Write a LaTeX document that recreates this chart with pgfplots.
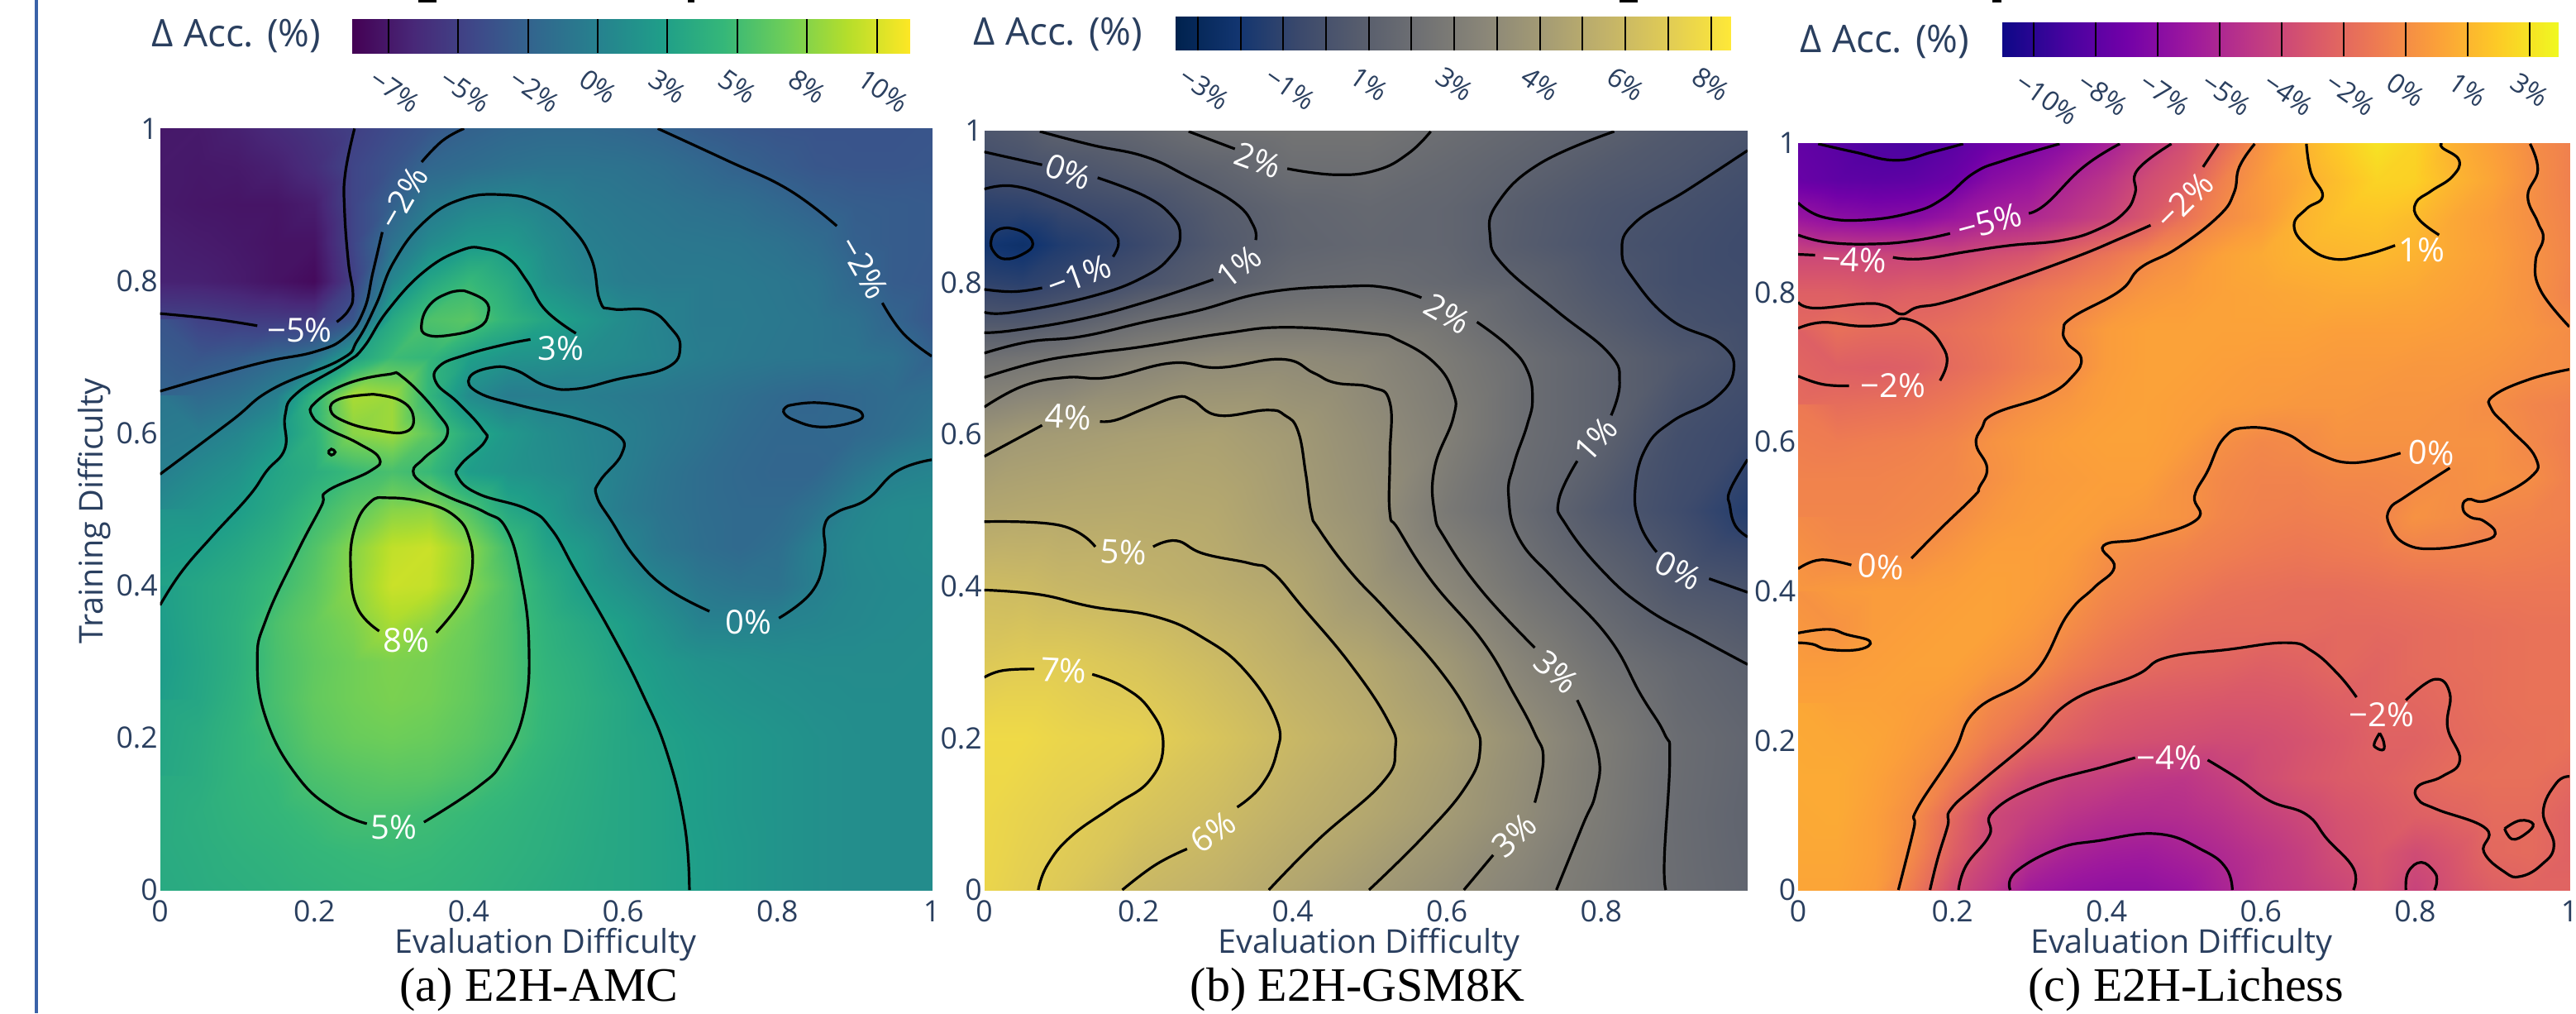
\documentclass[border=0pt]{standalone}
\usepackage{fontspec}
\usepackage{pgfplots}
\pgfplotsset{compat=1.18}
\setmainfont{Open Sans}
\newfontfamily\capfont{Liberation Serif}
\definecolor{lab}{HTML}{2A3F5F}
\definecolor{rule}{HTML}{3A62A8}
\pgfplotsset{
 colormap={pvir}{rgb255=(68,1,84) rgb255=(72,40,120) rgb255=(62,73,137) rgb255=(49,104,142) rgb255=(38,130,142) rgb255=(31,158,137) rgb255=(53,183,121) rgb255=(110,206,88) rgb255=(181,222,43) rgb255=(253,231,37)},
 colormap={pciv}{rgb255=(0,34,78) rgb255=(18,53,112) rgb255=(59,73,108) rgb255=(87,93,109) rgb255=(112,113,115) rgb255=(138,134,120) rgb255=(165,156,116) rgb255=(195,179,105) rgb255=(225,204,85) rgb255=(254,232,56)},
 colormap={ppla}{rgb255=(13,8,135) rgb255=(70,3,159) rgb255=(114,1,168) rgb255=(156,23,158) rgb255=(189,55,134) rgb255=(216,87,107) rgb255=(237,121,83) rgb255=(251,159,58) rgb255=(253,202,38) rgb255=(240,249,33)},
 heat/.style={scale only axis,anchor=south west,enlargelimits=false,axis line style={draw=none},
   major tick length=0pt,ymin=0,ymax=1,
   ytick={0,0.2,0.4,0.6,0.8,1},yticklabels={0,0.2,0.4,0.6,0.8,1},
   ticklabel style={font=\fontsize{8.9}{10}\selectfont,text=lab},
   xticklabel style={inner sep=0pt,yshift=-3pt},
   yticklabel style={inner sep=0pt,xshift=-0.5pt}},
 bar/.style={scale only axis,anchor=south west,enlargelimits=false,axis line style={draw=none},
   major tick length=0pt,ymin=0,ymax=1,ytick=\empty,height=10.25pt,
   xticklabel style={font=\fontsize{8.2}{10}\selectfont,text=lab,rotate=-35,anchor=west,inner sep=0pt,yshift=-8.25pt}},
 cl/.style={black,line width=0.8pt,smooth,tension=0.75,no markers},
 tk/.style={black,line width=0.5pt,no markers},
}
\tikzset{cn/.style={text=white,font=\fontsize{10}{12}\selectfont,inner sep=0pt}}
\begin{document}
\begin{tikzpicture}
\path[use as bounding box] (0pt,0pt) rectangle (779pt,306.25pt);
\fill[rule] (10.6pt,0pt) rectangle (11.4pt,306.25pt);
\fill[black] (126.5pt,305.5pt) rectangle (132pt,306.25pt);
\fill[black] (208pt,305.5pt) rectangle (210pt,306.25pt);
\fill[black] (489.8pt,305.5pt) rectangle (495.3pt,306.25pt);
\fill[black] (602.5pt,305.5pt) rectangle (605.3pt,306.25pt);

% ---------- panel a ----------
\begin{axis}[heat,at={(48.4pt,37.25pt)},width=233.35pt,height=230.15pt,xmin=0,xmax=1,
 xtick={0,0.2,0.4,0.6,0.8,1},xticklabels={0,0.2,0.4,0.6,0.8,1},
 colormap name=pvir,point meta min=-8.8,point meta max=11.17]
\addplot[surf,shader=interp,mesh/cols=21,point meta=explicit] table[header=false,row sep=\\,x expr={mod(\coordindex,21)*0.05},y expr={1-floor(\coordindex/21)*0.05},meta index=0]{
-7.5\\-7.4\\-7\\-6.4\\-5.8\\-5\\-4.2\\-3.4\\-2.6\\-2.2\\-2\\-2\\-2.2\\-2.5\\-3\\-3.3\\-3.5\\-3.6\\-3.6\\-3.6\\-3.5\\
-7.4\\-7.5\\-7.4\\-7\\-6.2\\-4.6\\-3.6\\-2.2\\-1.8\\-1.4\\-1.2\\-1.2\\-1.3\\-1.6\\-2.1\\-2.6\\-3\\-3.4\\-3.5\\-3.5\\-3.4\\
-7.4\\-7.6\\-7.7\\-7.7\\-7.2\\-4.6\\-2.7\\-0.7\\0.2\\0.5\\0\\-0.6\\-0.9\\-1.1\\-1.4\\-1.6\\-2.1\\-2.6\\-2.9\\-3\\-3.1\\
-7.1\\-7.3\\-7.5\\-7.8\\-7.8\\-4.6\\-1.3\\0.7\\1.8\\1.9\\0.8\\-0.2\\-0.6\\-0.8\\-0.9\\-1\\-1.3\\-1.8\\-2.7\\-3\\-3.1\\
-6.9\\-7\\-7.3\\-7.8\\-8.3\\-5\\0.4\\3\\4.6\\3.3\\1.3\\0.3\\-0.4\\-0.6\\-0.6\\-0.7\\-0.9\\-1.2\\-2.2\\-3\\-3.2\\
-4.8\\-4.9\\-5.2\\-5.3\\-5.4\\-3.5\\3.2\\5.5\\5.9\\4.2\\2.9\\1.8\\0.8\\0.1\\-0.6\\-0.6\\-0.8\\-1\\-1.4\\-2.4\\-3.3\\
-3.6\\-3.4\\-3\\-2.1\\-1.2\\2.5\\4.8\\4.4\\2.4\\1.5\\1.3\\0.9\\0.6\\0.2\\-0.4\\-0.7\\-0.9\\-1\\-1.1\\-1.4\\-2.5\\
-2.4\\-2\\-1.4\\-0.2\\4.2\\8.6\\8.2\\4.2\\0.8\\-0.4\\-0.3\\-0.3\\-0.6\\-0.9\\-1.2\\-1.6\\-2\\-2.3\\-2.1\\-1.8\\-1.5\\
-1\\-0.4\\0.3\\1.6\\4\\7.6\\8.2\\6\\3.3\\1.8\\0.9\\0.3\\-0.2\\-0.8\\-1.3\\-1.9\\-2.2\\-2.2\\-2.1\\-1.6\\-0.9\\
-0.2\\0.6\\1.3\\2.8\\3.6\\4.7\\5.3\\4.6\\2.2\\1.5\\1\\0.4\\-0.3\\-1.1\\-1.7\\-2.1\\-2.3\\-2.3\\-1.1\\-0.1\\0.2\\
0.8\\1.5\\2.2\\3.2\\4.7\\6\\7.5\\7.7\\5.6\\3.1\\2\\0.6\\-0.5\\-1.2\\-1.7\\-2\\-2\\-1.2\\0.2\\0.7\\0.8\\
1.5\\2.3\\3\\4\\5.6\\7.5\\9.3\\9.6\\7.7\\5\\2.8\\1.8\\0.3\\-0.9\\-1.6\\-2\\-1.6\\-0.1\\0.5\\0.7\\0.9\\
2.6\\3\\3.6\\4.7\\6\\7.7\\9.6\\9.4\\7.5\\5.6\\3.6\\2.2\\1.2\\0.2\\-0.8\\-1.2\\-1.3\\-0.2\\0.4\\0.6\\0.7\\
2.3\\3\\3.8\\5.4\\6.4\\7.2\\8.6\\7.7\\6.6\\5.5\\4\\3.1\\2.3\\1.2\\0.1\\0.05\\0.1\\0.3\\0.5\\0.7\\0.8\\
2.1\\2.9\\3.8\\5.3\\6.2\\6.8\\7.2\\7\\6.4\\5.5\\4.2\\3.5\\2.6\\1.9\\1.3\\1.1\\0.9\\0.8\\0.8\\0.8\\0.9\\
2.3\\3\\4\\5.3\\6.3\\6.8\\7.1\\6.9\\6.3\\5.5\\4.4\\3.7\\3\\2.2\\1.7\\1.4\\1.2\\1\\0.9\\0.9\\0.9\\
2.8\\3.4\\4.2\\5\\6\\6.5\\6.7\\6.5\\6\\5.3\\4.3\\3.6\\3\\2.6\\2.1\\1.8\\1.5\\1.2\\1\\0.9\\0.9\\
3\\3.5\\4.2\\4.6\\5.4\\5.8\\6\\5.9\\5.4\\4.7\\4\\3.5\\3\\2.7\\2.2\\1.8\\1.5\\1.2\\1\\0.9\\0.9\\
3.3\\3.7\\4.1\\4.4\\4.8\\5.2\\5.2\\4.9\\4.6\\4.2\\3.8\\3.4\\3\\2.7\\2.2\\1.8\\1.5\\1.2\\1\\0.9\\0.9\\
3.4\\3.6\\3.9\\4.1\\4.4\\4.6\\4.7\\4.6\\4.3\\4\\3.7\\3.3\\3\\2.7\\2.3\\1.9\\1.5\\1.2\\1\\0.9\\0.9\\
3.3\\3.5\\3.7\\3.9\\4.1\\4.3\\4.4\\4.3\\4.1\\3.8\\3.5\\3.2\\3\\2.7\\2.3\\1.9\\1.5\\1.2\\1\\0.9\\0.9\\
};
% level -5
\addplot[cl] coordinates {(0.252,1)(0.240,0.941)(0.239,0.894)(0.244,0.825)(0.250,0.782)(0.244,0.761)(0.229,0.746)};
\addplot[cl] coordinates {(0.126,0.741)(0.068,0.750)(0,0.757)};
% level -2.5
\addplot[cl] coordinates {(0.394,1)(0.366,0.984)(0.339,0.956)};
\addplot[cl] coordinates {(0.288,0.864)(0.276,0.812)(0.264,0.761)(0.240,0.726)(0.201,0.707)(0.138,0.694)(0.068,0.675)(0,0.655)};
\addplot[cl] coordinates {(0.645,1)(0.735,0.958)(0.814,0.920)(0.877,0.872)};
\addplot[cl] coordinates {(0.936,0.771)(0.963,0.731)(1,0.701)};
\addplot[cl] coordinates {(0.814,0.636)(0.849,0.640)(0.892,0.634)(0.910,0.625)(0.900,0.615)(0.857,0.608)(0.822,0.617)(0.808,0.628)(0.814,0.636)};
% level 0
\addplot[cl] coordinates {(0,0.546)(0.091,0.615)(0.146,0.658)(0.233,0.696)(0.256,0.722)(0.280,0.769)(0.303,0.825)(0.342,0.877)(0.390,0.907)(0.445,0.913)(0.492,0.902)(0.531,0.872)(0.559,0.829)(0.570,0.774)(0.586,0.763)(0.633,0.761)(0.661,0.739)(0.674,0.713)(0.657,0.686)(0.594,0.671)(0.539,0.658)(0.500,0.662)(0.460,0.683)(0.429,0.686)(0.401,0.673)(0.413,0.653)(0.468,0.636)(0.547,0.617)(0.594,0.597)(0.598,0.572)(0.570,0.537)(0.566,0.517)(0.586,0.483)(0.617,0.435)(0.657,0.396)(0.712,0.366)};
\addplot[cl] coordinates {(0.802,0.357)(0.845,0.392)(0.861,0.439)(0.861,0.478)(0.877,0.496)(0.916,0.513)(0.955,0.550)(1,0.565)};
% level 2.5
\addplot[cl] coordinates {(0,0.374)(0.028,0.418)(0.068,0.465)(0.115,0.517)(0.138,0.550)(0.162,0.580)(0.162,0.623)(0.178,0.653)(0.240,0.692)(0.264,0.713)(0.295,0.761)(0.342,0.812)(0.390,0.840)(0.421,0.842)(0.452,0.829)(0.476,0.799)(0.500,0.761)(0.539,0.731)};
\addplot[cl] coordinates {(0.480,0.723)(0.445,0.716)(0.397,0.703)(0.362,0.688)(0.358,0.666)(0.386,0.640)(0.417,0.606)(0.421,0.589)(0.390,0.559)(0.386,0.542)(0.413,0.520)(0.476,0.500)(0.507,0.474)(0.539,0.418)(0.586,0.335)(0.625,0.258)(0.657,0.180)(0.680,0.084)(0.686,0)};
% level 5
\addplot[cl] coordinates {(0.342,0.089)(0.413,0.136)(0.445,0.171)(0.472,0.236)(0.478,0.323)(0.468,0.409)(0.449,0.474)(0.421,0.496)(0.374,0.516)(0.342,0.533)(0.328,0.550)(0.342,0.567)(0.372,0.597)(0.358,0.628)(0.315,0.673)(0.295,0.677)(0.240,0.664)(0.201,0.640)(0.197,0.623)(0.217,0.606)(0.256,0.587)(0.284,0.567)(0.272,0.550)(0.217,0.524)(0.209,0.504)(0.178,0.444)(0.138,0.357)(0.126,0.301)(0.138,0.223)(0.178,0.149)(0.225,0.106)(0.268,0.087)};
\addplot[cl] coordinates {(0.394,0.787)(0.421,0.774)(0.425,0.756)(0.413,0.739)(0.378,0.729)(0.346,0.729)(0.339,0.744)(0.350,0.769)(0.374,0.784)(0.394,0.787)};
\addplot[cl] coordinates {(0.218,0.575)(0.222,0.579)(0.227,0.575)(0.222,0.571)(0.218,0.575)};
% level 7.5
\addplot[cl] coordinates {(0.276,0.651)(0.311,0.643)(0.328,0.623)(0.319,0.602)(0.280,0.604)(0.240,0.615)(0.221,0.630)(0.233,0.645)(0.276,0.651)};
\addplot[cl] coordinates {(0.358,0.338)(0.390,0.379)(0.404,0.418)(0.401,0.461)(0.382,0.491)(0.342,0.509)(0.296,0.515)(0.272,0.509)(0.252,0.474)(0.247,0.422)(0.256,0.370)(0.284,0.340)};
\node[cn,rotate=60] at (axis cs:0.315,0.909) {−2\%};
\node[cn,rotate=-60] at (axis cs:0.912,0.817) {−2\%};
\node[cn] at (axis cs:0.181,0.735) {−5\%};
\node[cn] at (axis cs:0.519,0.711) {3\%};
\node[cn] at (axis cs:0.303,0.082) {5\%};
\node[cn] at (axis cs:0.319,0.328) {8\%};
\node[cn] at (axis cs:0.763,0.352) {0\%};
\end{axis}

% ---------- panel b ----------
\begin{axis}[heat,at={(297.65pt,37.25pt)},width=230.85pt,height=229.5pt,xmin=0,xmax=0.99,
 xtick={0,0.2,0.4,0.6,0.8},xticklabels={0,0.2,0.4,0.6,0.8},
 colormap name=pciv,point meta min=-3.21,point meta max=8.15]
\addplot[surf,shader=interp,mesh/cols=12,point meta=explicit] table[header=false,row sep=\\,x index=0,y index=1,meta index=2]{
0 1 0.15\\0.05 1 0.4\\0.1 1 0.9\\0.2 1 1.2\\0.3 1 1.8\\0.4 1 2\\0.5 1 2\\0.6 1 1.6\\0.7 1 1.2\\0.8 1 0.8\\0.9 1 0.3\\0.99 1 0\\
0 0.95 -0.4\\0.05 0.95 -0.2\\0.1 0.95 0\\0.2 0.95 0.5\\0.3 0.95 1\\0.4 0.95 1.63\\0.5 0.95 1.66\\0.6 0.95 1.3\\0.7 0.95 0.9\\0.8 0.95 0.4\\0.9 0.95 0.1\\0.99 0.95 -0.3\\
0 0.9 -1.2\\0.05 0.9 -1.1\\0.1 0.9 -0.75\\0.2 0.9 -0.3\\0.3 0.9 0.5\\0.4 0.9 1.1\\0.5 0.9 1.3\\0.6 0.9 1.1\\0.7 0.9 0.55\\0.8 0.9 0.1\\0.9 0.9 -0.2\\0.99 0.9 -0.5\\
0 0.85 -1.9\\0.05 0.85 -2.2\\0.1 0.85 -1.5\\0.2 0.85 -0.75\\0.3 0.85 0.3\\0.4 0.85 1\\0.5 0.85 1.2\\0.6 0.85 1.1\\0.7 0.85 0.5\\0.8 0.85 0\\0.9 0.85 -0.35\\0.99 0.85 -0.6\\
0 0.8 -1.05\\0.05 0.8 -1.2\\0.1 0.8 -0.85\\0.2 0.8 -0.1\\0.3 0.8 0.7\\0.4 0.8 1.4\\0.5 0.8 1.55\\0.6 0.8 1.3\\0.7 0.8 0.95\\0.8 0.8 0.2\\0.9 0.8 -0.35\\0.99 0.8 -0.5\\
0 0.75 0.2\\0.05 0.75 0.2\\0.1 0.75 0.55\\0.2 0.75 1.55\\0.3 0.75 2\\0.4 0.75 2.3\\0.5 0.75 2.3\\0.6 0.75 2\\0.7 0.75 1.2\\0.8 0.75 0.5\\0.9 0.75 -0.15\\0.99 0.75 -0.4\\
0 0.7 1.8\\0.05 0.7 2\\0.1 0.7 2.2\\0.2 0.7 2.9\\0.3 0.7 3.3\\0.4 0.7 3.35\\0.5 0.7 3.1\\0.6 0.7 2.4\\0.7 0.7 1.6\\0.8 0.7 0.9\\0.9 0.7 0.25\\0.99 0.7 -0.3\\
0 0.6 3.9\\0.05 0.6 4.2\\0.1 0.6 4.3\\0.2 0.6 4.5\\0.3 0.6 4.6\\0.4 0.6 4.2\\0.5 0.6 3.5\\0.6 0.6 2.7\\0.7 0.6 1.6\\0.8 0.6 0.9\\0.9 0.6 -0.3\\0.99 0.6 -0.7\\
0 0.5 4.9\\0.05 0.5 5\\0.1 0.5 5.05\\0.2 0.5 5.1\\0.3 0.5 5\\0.4 0.5 4.4\\0.5 0.5 3.7\\0.6 0.5 2.3\\0.7 0.5 1.4\\0.8 0.5 0.3\\0.9 0.5 -0.5\\0.99 0.5 -1.4\\
0 0.4 6.05\\0.05 0.4 6\\0.1 0.4 5.8\\0.2 0.4 5.6\\0.3 0.4 5.3\\0.4 0.4 4.9\\0.5 0.4 4\\0.6 0.4 3.1\\0.7 0.4 2\\0.8 0.4 1.1\\0.9 0.4 0.2\\0.99 0.4 -0.1\\
0 0.3 6.7\\0.05 0.3 6.85\\0.1 0.3 6.85\\0.2 0.3 6.5\\0.3 0.3 6\\0.4 0.3 5.4\\0.5 0.3 4.9\\0.6 0.3 4.1\\0.7 0.3 2.9\\0.8 0.3 1.9\\0.9 0.3 1.2\\0.99 0.3 0.75\\
0 0.2 7.5\\0.05 0.2 7.5\\0.1 0.2 7.3\\0.2 0.2 7.1\\0.3 0.2 6.5\\0.4 0.2 5.85\\0.5 0.2 5.3\\0.6 0.2 4.6\\0.7 0.2 3.6\\0.8 0.2 2.5\\0.9 0.2 1.55\\0.99 0.2 1.1\\
0 0.1 7.4\\0.05 0.1 7.2\\0.1 0.1 7\\0.2 0.1 6.5\\0.3 0.1 6.05\\0.4 0.1 5.45\\0.5 0.1 4.95\\0.6 0.1 4.3\\0.7 0.1 3.4\\0.8 0.1 2.4\\0.9 0.1 1.5\\0.99 0.1 1\\
0 0 7.3\\0.05 0 7\\0.1 0 6.7\\0.2 0 5.9\\0.3 0 5.5\\0.4 0 4.9\\0.5 0 4.25\\0.6 0 3.6\\0.7 0 2.9\\0.8 0 2.2\\0.9 0 1.55\\0.99 0 1.1\\
};
\addplot[cl] coordinates {(0.031,0.872)(0.051,0.866)(0.063,0.851)(0.051,0.838)(0.027,0.831)(0.012,0.841)(0.009,0.856)(0.017,0.869)(0.031,0.872)};
\addplot[cl] coordinates {(0,0.923)(0.038,0.927)(0.092,0.910)(0.140,0.886)(0.167,0.866)(0.174,0.851)(0.167,0.834)};
\addplot[cl] coordinates {(0.075,0.793)(0.038,0.788)(0,0.791)};
\addplot[cl] coordinates {(0,0.972)(0.075,0.955)};
\addplot[cl] coordinates {(0.147,0.938)(0.208,0.914)(0.243,0.888)(0.254,0.862)(0.243,0.836)(0.208,0.808)(0.140,0.782)(0.038,0.761)(0,0.761)};
\addplot[cl] coordinates {(0.072,0.999)(0.140,0.981)(0.208,0.966)(0.263,0.940)(0.325,0.905)(0.349,0.875)(0.352,0.856)};
\addplot[cl] coordinates {(0.297,0.804)(0.208,0.774)(0.126,0.752)(0.038,0.737)(0,0.734)};
\addplot[cl] coordinates {(0.265,0.999)(0.325,0.976)};
\addplot[cl] coordinates {(0.393,0.950)(0.455,0.942)(0.509,0.948)(0.550,0.970)(0.579,0.999)};
\addplot[cl] coordinates {(0,0.707)(0.058,0.722)(0.126,0.729)(0.208,0.748)(0.277,0.763)(0.366,0.787)(0.468,0.795)(0.523,0.793)(0.567,0.780)};
\addplot[cl] coordinates {(0.639,0.748)(0.680,0.716)(0.704,0.685)(0.711,0.647)(0.704,0.612)(0.687,0.561)(0.680,0.519)(0.694,0.462)(0.742,0.406)(0.810,0.332)(0.851,0.258)(0.882,0.206)(0.889,0.172)(0.882,0.041)(0.884,0)};
\addplot[cl] coordinates {(0,0.675)(0.072,0.696)(0.140,0.707)(0.208,0.716)(0.311,0.733)(0.393,0.741)(0.502,0.733)(0.537,0.724)(0.584,0.694)(0.608,0.655)(0.608,0.621)(0.584,0.556)(0.584,0.497)(0.598,0.462)(0.646,0.393)(0.714,0.319)};
\addplot[cl] coordinates {(0.769,0.250)(0.796,0.180)(0.793,0.128)(0.776,0.085)(0.742,0)};
\addplot[cl] coordinates {(0,0.636)(0.051,0.664)(0.106,0.675)(0.161,0.675)(0.243,0.694)(0.304,0.688)(0.386,0.699)(0.427,0.681)(0.455,0.668)(0.502,0.662)(0.526,0.642)(0.526,0.569)(0.526,0.497)(0.537,0.475)(0.581,0.406)(0.646,0.328)(0.687,0.258)(0.714,0.206)(0.725,0.172)(0.714,0.115)};
\addplot[cl] coordinates {(0.660,0.046)(0.622,0)};
\addplot[cl] coordinates {(0,0.571)(0.075,0.612)};
\addplot[cl] coordinates {(0.150,0.617)(0.171,0.619)(0.208,0.634)(0.249,0.649)(0.270,0.645)(0.304,0.625)(0.366,0.632)(0.390,0.625)(0.407,0.604)(0.417,0.548)(0.424,0.497)(0.434,0.475)(0.475,0.419)(0.523,0.367)(0.591,0.289)(0.632,0.224)(0.643,0.185)(0.625,0.137)(0.571,0.072)(0.499,0)};
\addplot[cl] coordinates {(0,0.485)(0.099,0.480)(0.144,0.452)};
\addplot[cl] coordinates {(0.219,0.452)(0.249,0.460)(0.284,0.443)(0.345,0.430)(0.373,0.419)(0.414,0.371)(0.475,0.297)(0.523,0.224)(0.533,0.185)(0.516,0.141)(0.434,0.067)(0.369,0)};
\addplot[cl] coordinates {(0,0.395)(0.072,0.389)(0.140,0.373)(0.222,0.360)(0.284,0.332)(0.338,0.289)(0.379,0.224)(0.379,0.180)(0.359,0.137)(0.328,0.109)};
\addplot[cl] coordinates {(0.263,0.054)(0.222,0.033)(0.179,0)};
\addplot[cl] coordinates {(0,0.280)(0.024,0.289)(0.065,0.291)};
\addplot[cl] coordinates {(0.140,0.284)(0.181,0.267)(0.215,0.237)(0.232,0.193)(0.215,0.145)(0.167,0.110)(0.113,0.071)(0.082,0.033)(0.070,0)};
\addplot[cl] coordinates {(0.817,0.999)(0.721,0.957)(0.666,0.905)(0.656,0.862)(0.673,0.823)(0.742,0.763)(0.810,0.707)(0.824,0.668)(0.813,0.625)};
\addplot[cl] coordinates {(0.769,0.565)(0.745,0.513)(0.755,0.480)(0.803,0.419)(0.858,0.371)(0.926,0.332)(0.990,0.297)};
\addplot[cl] coordinates {(0.990,0.974)(0.912,0.922)(0.844,0.879)(0.827,0.841)(0.844,0.802)(0.892,0.750)(0.954,0.720)(0.972,0.685)(0.947,0.647)(0.892,0.617)(0.858,0.582)(0.844,0.526)(0.851,0.480)(0.872,0.445)};
\addplot[cl] coordinates {(0.940,0.410)(0.990,0.392)};
\addplot[cl] coordinates {(0.990,0.567)(0.967,0.526)(0.967,0.506)(0.974,0.480)(0.990,0.465)};
\node[cn,rotate=-20] at (axis cs:0.109,0.946) {0\%};
\node[cn,rotate=20] at (axis cs:0.123,0.809) {−1\%};
\node[cn,rotate=38] at (axis cs:0.330,0.821) {1\%};
\node[cn,rotate=-20] at (axis cs:0.355,0.961) {2\%};
\node[cn,rotate=-3] at (axis cs:0.109,0.623) {4\%};
\node[cn,rotate=-30] at (axis cs:0.601,0.759) {2\%};
\node[cn,rotate=48] at (axis cs:0.793,0.593) {1\%};
\node[cn,rotate=-27] at (axis cs:0.900,0.421) {0\%};
\node[cn,rotate=-42] at (axis cs:0.742,0.287) {3\%};
\node[cn,rotate=42] at (axis cs:0.687,0.072) {3\%};
\node[cn,rotate=-3] at (axis cs:0.181,0.445) {5\%};
\node[cn,rotate=35] at (axis cs:0.297,0.076) {6\%};
\node[cn,rotate=-3] at (axis cs:0.103,0.289) {7\%};
\end{axis}

% ---------- panel c ----------
\begin{axis}[heat,at={(543.75pt,37.25pt)},width=233.25pt,height=225.75pt,xmin=0,xmax=1,
 xtick={0,0.2,0.4,0.6,0.8,1},xticklabels={0,0.2,0.4,0.6,0.8,1},
 colormap name=ppla,point meta min=-10.26,point meta max=3.2]
\addplot[surf,shader=interp,mesh/cols=21,point meta=explicit] table[header=false,row sep=\\,x expr={mod(\coordindex,21)*0.05},y expr={1-floor(\coordindex/21)*0.05},meta index=0]{
-7.8\\-8.1\\-8.5\\-8.6\\-8.1\\-7.4\\-7\\-6.3\\-5.4\\-4.3\\-3.2\\-1.9\\-0.3\\0.8\\1.7\\2.5\\2\\0.8\\0.2\\-0.5\\-1\\
-7.6\\-7.9\\-8\\-7.9\\-7.5\\-6.5\\-6\\-5.1\\-4.4\\-3.3\\-2.6\\-1\\0\\0.6\\1.3\\2\\1.9\\1\\0.4\\-0.4\\-1\\
-5.9\\-6.4\\-6.6\\-6.5\\-5.9\\-5.3\\-5\\-4.4\\-3.7\\-2.8\\-1.6\\-0.6\\0\\0.9\\1.4\\1.5\\1.2\\0.5\\0.1\\-0.4\\-0.9\\
-3.5\\-3.5\\-3.6\\-3.6\\-3.6\\-3.2\\-2.9\\-2.1\\-1.5\\-0.8\\-0.3\\0.3\\0.6\\0.9\\1\\1.1\\0.9\\0.5\\0.2\\-0.3\\-0.8\\
-2.4\\-2.4\\-2.6\\-2.4\\-2.3\\-1.9\\-1.4\\-1\\-0.6\\-0.1\\0.1\\0.3\\0.4\\0.5\\0.6\\0.6\\0.5\\0.3\\0.1\\-0.3\\-0.9\\
-2\\-1.7\\-1.9\\-1.9\\-1.7\\-1.4\\-1\\-0.5\\0.1\\0.3\\0.3\\0.3\\0.3\\0.3\\0.2\\0.2\\0.2\\0.1\\0\\-0.2\\-0.5\\
-2.4\\-2.4\\-2.5\\-2.4\\-1.9\\-1.5\\-1\\-0.6\\0.1\\0.3\\0.3\\0.2\\0.1\\0.1\\0\\0\\-0.1\\-0.1\\-0.2\\-0.4\\-0.5\\
-1.9\\-1.8\\-1.7\\-1.6\\-1.3\\-0.9\\-0.4\\-0.1\\0.2\\0.3\\0.2\\0.1\\0\\-0.1\\-0.1\\-0.2\\-0.2\\-0.3\\-0.5\\-0.8\\-1\\
-1.3\\-1.2\\-1.1\\-1\\-0.8\\-0.3\\0\\0.2\\0.3\\0.3\\0.1\\-0.4\\-0.7\\-0.6\\-0.3\\-0.3\\-0.3\\-0.3\\-0.3\\-0.7\\-1.1\\
-0.9\\-0.9\\-0.9\\-0.8\\-0.7\\-0.4\\0\\0.1\\0.2\\0.2\\-0.3\\-0.7\\-0.9\\-0.9\\-0.7\\-0.7\\-0.6\\-0.45\\-0.3\\-0.5\\-1\\
-0.8\\-0.8\\-0.8\\-0.7\\-0.55\\-0.1\\0.1\\0.2\\0.1\\-0.1\\-0.3\\-0.8\\-1\\-1.1\\-1\\-0.9\\-0.3\\-0.5\\-0.8\\-0.9\\-1\\
-0.6\\-0.6\\-0.6\\-0.45\\-0.1\\0.2\\0.2\\0.1\\-0.4\\-0.7\\-0.9\\-1.1\\-1.3\\-1.4\\-1.3\\-1.2\\-1\\-1\\-1\\-1.1\\-1.2\\
-0.1\\0\\0.1\\0.1\\0.2\\0.3\\0.2\\-0.1\\-0.7\\-1\\-1.3\\-1.6\\-1.7\\-1.8\\-1.8\\-1.7\\-1.6\\-1.5\\-1.4\\-1.4\\-1.4\\
-0.3\\-0.3\\0.1\\0.2\\0.3\\0.3\\0\\-0.55\\-1.1\\-1.5\\-1.8\\-1.9\\-1.9\\-1.9\\-2\\-2\\-1.9\\-1.8\\-1.7\\-1.6\\-1.6\\
0.1\\0.1\\0.2\\0.3\\0.3\\0\\-0.4\\-1.1\\-1.6\\-1.9\\-2.1\\-2.2\\-2.4\\-2.3\\-2\\-2.2\\-1.9\\-1.8\\-1.7\\-1.6\\-1.6\\
0.3\\0.3\\0.3\\0.2\\0\\-0.7\\-1.2\\-1.9\\-2.4\\-2.6\\-2.7\\-2.8\\-2.8\\-2.7\\-2.4\\-2.2\\-2.1\\-1.9\\-1.7\\-1.6\\-1.6\\
0.5\\0.5\\0.4\\0.1\\-0.4\\-1.2\\-2\\-2.5\\-2.9\\-3.1\\-3.2\\-3.3\\-3.2\\-3\\-2.7\\-2.3\\-2.3\\-2\\-1.8\\-1.7\\-1.6\\
0.6\\0.6\\0.3\\-0.2\\-1.1\\-2.3\\-3.3\\-3.7\\-3.9\\-4.2\\-4.3\\-3.9\\-3.3\\-2.9\\-2.6\\-2.4\\-2.1\\-1.8\\-1.7\\-1.7\\-2\\
0.6\\0.6\\0.2\\-0.5\\-2\\-3.4\\-3.9\\-4.4\\-4.7\\-4.8\\-4.7\\-4.4\\-3.9\\-3.5\\-3\\-2.7\\-2.4\\-2.2\\-1.9\\-1.9\\-2.3\\
0.5\\0.5\\0.2\\-0.7\\-2.4\\-3.6\\-4.6\\-5.2\\-5.5\\-5.6\\-5.3\\-4.9\\-4.4\\-3.9\\-3.2\\-2.8\\-3.3\\-2.8\\-2\\-1.9\\-2.3\\
0.4\\0.4\\0.1\\-1.3\\-3.2\\-4.2\\-5.6\\-6\\-6.2\\-6.2\\-5.9\\-5.2\\-4.5\\-4.1\\-3.6\\-3\\-3.7\\-3\\-2.4\\-2.2\\-2.2\\
};
\addplot[cl] coordinates {(0.026,0.999)(0.073,0.988)(0.127,0.977)(0.174,0.988)(0.214,0.999)};
\addplot[cl] coordinates {(0,0.920)(0.032,0.901)(0.086,0.897)(0.147,0.907)(0.187,0.925)(0.228,0.960)(0.268,0.977)(0.339,0.999)};
\addplot[cl] coordinates {(0,0.877)(0.039,0.867)(0.100,0.865)(0.154,0.870)(0.197,0.879)};
\addplot[cl] coordinates {(0.299,0.906)(0.322,0.919)(0.370,0.968)(0.417,0.999)};
\addplot[cl] coordinates {(0,0.851)(0.022,0.850)};
\addplot[cl] coordinates {(0.123,0.847)(0.160,0.845)(0.221,0.855)(0.275,0.863)(0.343,0.870)(0.390,0.885)(0.423,0.907)(0.437,0.933)(0.440,0.964)(0.484,0.999)};
\addplot[cl] coordinates {(0,0.787)(0.022,0.779)(0.086,0.785)(0.113,0.782)(0.134,0.771)(0.154,0.780)(0.187,0.786)(0.248,0.806)(0.356,0.846)(0.417,0.872)(0.457,0.890)};
\addplot[cl] coordinates {(0.525,0.968)(0.545,0.999)};
\addplot[cl] coordinates {(0,0.752)(0.032,0.760)(0.080,0.755)(0.120,0.758)(0.137,0.765)(0.167,0.752)(0.187,0.728)(0.193,0.706)(0.184,0.682)};
\addplot[cl] coordinates {(0.066,0.675)(0.032,0.677)(0,0.688)};
\addplot[cl] coordinates {(0.592,0.999)(0.572,0.968)(0.565,0.933)(0.545,0.902)(0.491,0.859)(0.444,0.833)(0.417,0.802)(0.356,0.767)(0.344,0.749)(0.349,0.732)(0.367,0.712)(0.356,0.688)(0.322,0.662)(0.255,0.638)(0.238,0.618)(0.231,0.596)(0.245,0.565)(0.235,0.539)(0.228,0.527)(0.184,0.483)(0.147,0.444)};
\addplot[cl] coordinates {(0.069,0.435)(0.029,0.442)(0,0.430)};
\addplot[cl] coordinates {(0.659,0.999)(0.665,0.960)(0.680,0.929)(0.659,0.912)(0.643,0.890)(0.659,0.863)(0.693,0.845)(0.734,0.850)(0.774,0.863)};
\addplot[cl] coordinates {(0.831,0.877)(0.804,0.899)(0.801,0.920)(0.821,0.936)(0.848,0.955)(0.857,0.977)(0.835,0.994)(0.835,1)};
\addplot[cl] coordinates {(0.949,0.999)(0.959,0.964)(0.946,0.929)(0.959,0.894)(0.966,0.872)(0.956,0.841)(0.963,0.802)(1,0.754)};
\addplot[cl] coordinates {(1,0.697)(0.949,0.684)(0.902,0.662)(0.899,0.644)(0.922,0.618)(0.956,0.579)(0.949,0.552)(0.895,0.522)(0.868,0.523)(0.862,0.510)(0.872,0.499)(0.889,0.494)(0.904,0.477)(0.882,0.466)(0.828,0.457)(0.788,0.463)(0.767,0.488)(0.767,0.510)(0.788,0.527)(0.845,0.565)};
\addplot[cl] coordinates {(0.781,0.585)(0.720,0.572)(0.673,0.585)(0.632,0.611)(0.582,0.619)(0.552,0.605)(0.531,0.561)(0.514,0.527)(0.517,0.496)(0.450,0.471)(0.396,0.461)(0.410,0.432)(0.383,0.404)(0.349,0.368)(0.305,0.289)(0.231,0.241)(0.201,0.183)(0.154,0.108)(0.150,0.082)(0.130,0)};
\addplot[cl] coordinates {(0,0.344)(0.039,0.349)(0.063,0.342)(0.093,0.333)(0.079,0.322)(0.039,0.322)(0.019,0.329)(0,0.331)};
\addplot[cl] coordinates {(0.171,0)(0.181,0.042)(0.194,0.086)(0.198,0.108)(0.235,0.143)(0.302,0.201)(0.356,0.254)(0.437,0.287)(0.477,0.311)(0.558,0.322)(0.633,0.331)(0.666,0.320)(0.700,0.289)(0.724,0.258)};
\addplot[cl] coordinates {(0.788,0.254)(0.825,0.282)(0.845,0.263)(0.842,0.218)(0.858,0.174)(0.835,0.152)(0.804,0.139)(0.804,0.121)(0.828,0.108)(0.892,0.082)(0.889,0.051)(0.916,0.024)(0.936,0.018)(0.963,0.033)(0.980,0.060)(0.966,0.104)(0.983,0.143)(1,0.152)};
\addplot[cl] coordinates {(0.208,0)(0.218,0.033)(0.248,0.073)(0.252,0.104)(0.309,0.139)(0.396,0.165)(0.437,0.177)};
\addplot[cl] coordinates {(0.531,0.174)(0.572,0.148)(0.612,0.119)(0.659,0.101)(0.686,0.068)(0.720,0.029)(0.720,0)};
\addplot[cl] coordinates {(0.275,0)(0.282,0.024)(0.336,0.055)(0.390,0.066)(0.467,0.075)(0.525,0.053)(0.555,0.029)(0.563,0)};
\addplot[cl] coordinates {(0.788,0)(0.791,0.024)(0.808,0.037)(0.825,0.024)(0.828,0.011)(0.825,0)};
\addplot[cl] coordinates {(0.916,0.082)(0.936,0.093)(0.953,0.088)(0.943,0.075)(0.926,0.068)(0.916,0.082)};
\addplot[cl] coordinates {(0.754,0.210)(0.759,0.199)(0.759,0.188)(0.750,0.190)(0.747,0.196)(0.754,0.210)};
\node[cn,rotate=15] at (axis cs:0.248,0.894) {−5\%};
\node[cn,rotate=-3] at (axis cs:0.073,0.844) {−4\%};
\node[cn,rotate=45] at (axis cs:0.501,0.923) {−2\%};
\node[cn] at (axis cs:0.809,0.857) {1\%};
\node[cn] at (axis cs:0.123,0.675) {−2\%};
\node[cn,rotate=-3] at (axis cs:0.821,0.585) {0\%};
\node[cn,rotate=-3] at (axis cs:0.107,0.433) {0\%};
\node[cn] at (axis cs:0.757,0.234) {−2\%};
\node[cn] at (axis cs:0.481,0.177) {−4\%};
\end{axis}

% ---------- colour bars ----------
\begin{axis}[bar,at={(106.5pt,290.25pt)},width=168.5pt,xmin=-8.8,xmax=11.17,colormap name=pvir,point meta min=-8.8,point meta max=11.17,
 xtick={-7.5,-5,-2.5,0,2.5,5,7.5,10},xticklabels={−7\%,−5\%,−2\%,0\%,3\%,5\%,8\%,10\%}]
\addplot[surf,shader=interp,mesh/cols=2,point meta=x] table[header=false,row sep=\\,x index=0,y index=1]{
-8.8 0\\11.17 0\\-8.8 1\\11.17 1\\};
\addplot[tk] coordinates {(-7.5,0)(-7.5,1)};\addplot[tk] coordinates {(-5,0)(-5,1)};\addplot[tk] coordinates {(-2.5,0)(-2.5,1)};\addplot[tk] coordinates {(0,0)(0,1)};\addplot[tk] coordinates {(2.5,0)(2.5,1)};\addplot[tk] coordinates {(5,0)(5,1)};\addplot[tk] coordinates {(7.5,0)(7.5,1)};\addplot[tk] coordinates {(10,0)(10,1)};
\end{axis}
\begin{axis}[bar,at={(355.4pt,291pt)},width=167.9pt,xmin=-3.21,xmax=8.15,colormap name=pciv,point meta min=-3.21,point meta max=8.15,
 xtick={-2.75,-1,0.75,2.5,4.25,6,7.75},xticklabels={−3\%,−1\%,1\%,3\%,4\%,6\%,8\%}]
\addplot[surf,shader=interp,mesh/cols=2,point meta=x] table[header=false,row sep=\\,x index=0,y index=1]{
-3.21 0\\8.15 0\\-3.21 1\\8.15 1\\};
\addplot[tk] coordinates {(-2.75,0)(-2.75,1)};\addplot[tk] coordinates {(-1.875,0)(-1.875,1)};\addplot[tk] coordinates {(-1,0)(-1,1)};\addplot[tk] coordinates {(-0.125,0)(-0.125,1)};\addplot[tk] coordinates {(0.75,0)(0.75,1)};\addplot[tk] coordinates {(1.625,0)(1.625,1)};\addplot[tk] coordinates {(2.5,0)(2.5,1)};\addplot[tk] coordinates {(3.375,0)(3.375,1)};\addplot[tk] coordinates {(4.25,0)(4.25,1)};\addplot[tk] coordinates {(5.125,0)(5.125,1)};\addplot[tk] coordinates {(6,0)(6,1)};\addplot[tk] coordinates {(6.875,0)(6.875,1)};\addplot[tk] coordinates {(7.75,0)(7.75,1)};
\end{axis}
\begin{axis}[bar,at={(605.6pt,289.25pt)},width=168.1pt,xmin=-10.26,xmax=3.2,colormap name=ppla,point meta min=-10.26,point meta max=3.2,
 xtick={-9.5,-8,-6.5,-5,-3.5,-2,-0.5,1,2.5},xticklabels={−10\%,−8\%,−7\%,−5\%,−4\%,−2\%,0\%,1\%,3\%}]
\addplot[surf,shader=interp,mesh/cols=2,point meta=x] table[header=false,row sep=\\,x index=0,y index=1]{
-10.26 0\\3.2 0\\-10.26 1\\3.2 1\\};
\addplot[tk] coordinates {(-9.5,0)(-9.5,1)};\addplot[tk] coordinates {(-8,0)(-8,1)};\addplot[tk] coordinates {(-6.5,0)(-6.5,1)};\addplot[tk] coordinates {(-5,0)(-5,1)};\addplot[tk] coordinates {(-3.5,0)(-3.5,1)};\addplot[tk] coordinates {(-2,0)(-2,1)};\addplot[tk] coordinates {(-0.5,0)(-0.5,1)};\addplot[tk] coordinates {(1,0)(1,1)};\addplot[tk] coordinates {(2.5,0)(2.5,1)};
\end{axis}

% ---------- titles and captions ----------
\tikzset{ttl/.style={text=lab,font=\fontsize{11.5}{13}\selectfont,inner sep=0pt},
 xl/.style={text=lab,font=\fontsize{9.9}{12}\selectfont,inner sep=0pt},
 cp/.style={text=black,font=\capfont\fontsize{14.5}{16}\selectfont,inner sep=0pt}}
\node[ttl] at (71.5pt,295.5pt) {Δ Acc. (\%)};
\node[ttl] at (320pt,295.9pt) {Δ Acc. (\%)};
\node[ttl] at (570pt,293.75pt) {Δ Acc. (\%)};
\node[xl] at (165pt,20.75pt) {Evaluation Difficulty};
\node[xl] at (414pt,20.75pt) {Evaluation Difficulty};
\node[xl] at (659.7pt,20.75pt) {Evaluation Difficulty};
\node[xl,rotate=90] at (28.5pt,151.75pt) {Training Difficulty};
\node[cp] at (163pt,7pt) {(a) E2H-AMC};
\node[cp] at (410.5pt,7pt) {(b) E2H-GSM8K};
\node[cp] at (661pt,7pt) {(c) E2H-Lichess};
\end{tikzpicture}
\end{document}
